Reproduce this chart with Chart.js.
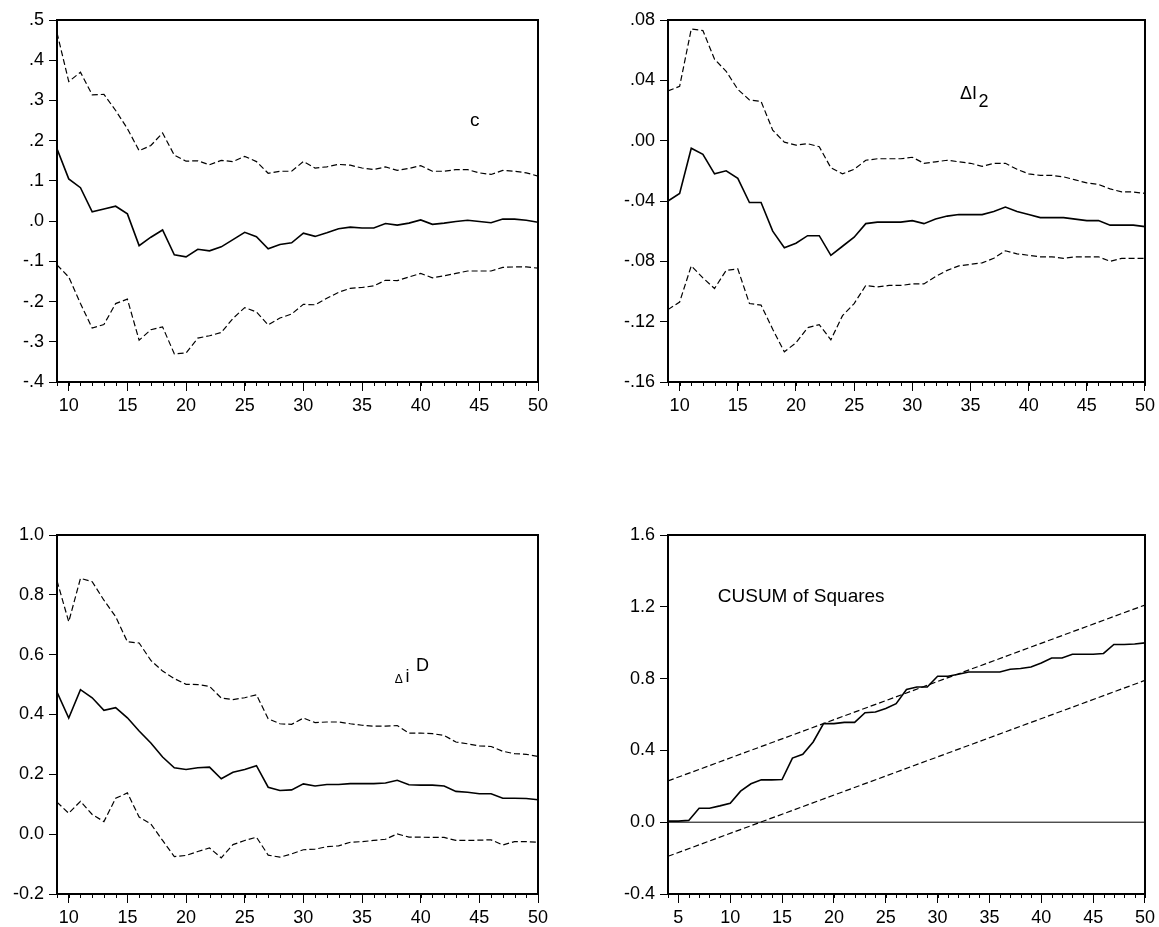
<!DOCTYPE html>
<html><head><meta charset="utf-8">
<script src="https://cdn.jsdelivr.net/npm/chart.js@4"></script>
<style>
html,body{margin:0;padding:0;background:#fff;overflow:hidden;width:1159px;height:927px}
canvas{position:absolute;display:block}
</style></head><body>
<canvas id="c1" width="580" height="420" style="left:0;top:0"></canvas>
<canvas id="c2" width="579" height="420" style="left:580px;top:0"></canvas>
<canvas id="c3" width="580" height="467" style="left:0;top:460px"></canvas>
<canvas id="c4" width="579" height="467" style="left:580px;top:460px"></canvas>
<script>
// ---------- data ----------
const periods = [9,10,11,12,13,14,15,16,17,18,19,20,21,22,23,24,25,26,27,28,29,30,31,32,33,34,35,36,37,38,39,40,41,42,43,44,45,46,47,48,49,50];

const cCoef  = [0.180,0.105,0.083,0.023,0.030,0.037,0.018,-0.061,-0.040,-0.022,-0.084,-0.089,-0.070,-0.074,-0.064,-0.046,-0.028,-0.039,-0.069,-0.058,-0.054,-0.030,-0.038,-0.029,-0.019,-0.015,-0.017,-0.017,-0.006,-0.010,-0.005,0.003,-0.008,-0.005,-0.001,0.002,-0.001,-0.004,0.005,0.005,0.002,-0.003];
const cUpper = [0.468,0.347,0.370,0.314,0.315,0.275,0.230,0.175,0.188,0.219,0.164,0.149,0.150,0.140,0.151,0.148,0.161,0.148,0.119,0.124,0.124,0.148,0.132,0.135,0.141,0.139,0.132,0.128,0.135,0.126,0.131,0.138,0.124,0.124,0.128,0.128,0.120,0.116,0.126,0.124,0.120,0.112];
const cLower = [-0.109,-0.139,-0.205,-0.266,-0.257,-0.205,-0.194,-0.296,-0.270,-0.263,-0.330,-0.328,-0.291,-0.285,-0.277,-0.242,-0.215,-0.226,-0.258,-0.241,-0.231,-0.207,-0.208,-0.192,-0.177,-0.167,-0.165,-0.161,-0.147,-0.148,-0.139,-0.130,-0.141,-0.136,-0.130,-0.124,-0.124,-0.124,-0.115,-0.114,-0.114,-0.117];

const dI2Coef  = [-0.040,-0.035,-0.005,-0.009,-0.022,-0.020,-0.025,-0.041,-0.041,-0.060,-0.071,-0.068,-0.063,-0.063,-0.076,-0.070,-0.064,-0.055,-0.054,-0.054,-0.054,-0.053,-0.055,-0.052,-0.050,-0.049,-0.049,-0.049,-0.047,-0.044,-0.047,-0.049,-0.051,-0.051,-0.051,-0.052,-0.053,-0.053,-0.056,-0.056,-0.056,-0.057];
const dI2Upper = [0.033,0.036,0.074,0.073,0.054,0.046,0.034,0.027,0.026,0.007,-0.001,-0.003,-0.002,-0.004,-0.018,-0.022,-0.019,-0.013,-0.012,-0.012,-0.012,-0.011,-0.015,-0.014,-0.013,-0.014,-0.015,-0.017,-0.015,-0.015,-0.019,-0.022,-0.023,-0.023,-0.024,-0.026,-0.028,-0.029,-0.032,-0.034,-0.034,-0.035];
const dI2Lower = [-0.112,-0.107,-0.083,-0.091,-0.098,-0.086,-0.085,-0.108,-0.109,-0.125,-0.140,-0.134,-0.124,-0.122,-0.132,-0.116,-0.108,-0.096,-0.097,-0.096,-0.096,-0.095,-0.095,-0.090,-0.086,-0.083,-0.082,-0.081,-0.078,-0.073,-0.075,-0.076,-0.077,-0.077,-0.078,-0.077,-0.077,-0.077,-0.080,-0.078,-0.078,-0.078];

const diDCoef  = [0.475,0.388,0.483,0.456,0.414,0.423,0.389,0.345,0.305,0.258,0.222,0.216,0.222,0.224,0.185,0.207,0.216,0.229,0.157,0.146,0.148,0.168,0.161,0.166,0.166,0.169,0.169,0.169,0.171,0.180,0.165,0.164,0.164,0.161,0.143,0.140,0.135,0.135,0.120,0.120,0.119,0.115];
const diDUpper = [0.847,0.710,0.855,0.844,0.782,0.727,0.643,0.639,0.581,0.545,0.520,0.501,0.500,0.494,0.455,0.450,0.456,0.466,0.386,0.369,0.367,0.388,0.373,0.375,0.375,0.369,0.364,0.361,0.361,0.363,0.338,0.338,0.336,0.330,0.308,0.302,0.295,0.293,0.277,0.269,0.267,0.260];
const diDLower = [0.107,0.070,0.110,0.066,0.042,0.120,0.138,0.057,0.034,-0.021,-0.075,-0.071,-0.058,-0.046,-0.079,-0.035,-0.021,-0.010,-0.070,-0.077,-0.066,-0.052,-0.050,-0.042,-0.039,-0.027,-0.025,-0.021,-0.017,0.001,-0.010,-0.010,-0.011,-0.011,-0.021,-0.021,-0.020,-0.019,-0.036,-0.025,-0.025,-0.027];

const cusumPeriods = [4,5,6,7,8,9,10,11,12,13,14,15,16,17,18,19,20,21,22,23,24,25,26,27,28,29,30,31,32,33,34,35,36,37,38,39,40,41,42,43,44,45,46,47,48,49,50];
const cusumSq = [0.006,0.006,0.010,0.078,0.078,0.091,0.106,0.173,0.214,0.236,0.236,0.238,0.357,0.378,0.447,0.549,0.549,0.556,0.556,0.610,0.614,0.633,0.660,0.739,0.753,0.753,0.813,0.813,0.824,0.837,0.837,0.837,0.837,0.852,0.856,0.865,0.887,0.915,0.915,0.936,0.936,0.936,0.940,0.990,0.990,0.993,0.999];
const boundPeriods = [4,50];
const cusumUpper = [0.23,1.21];
const cusumLower = [-0.19,0.79];
const zeroLine = [0,0];

// tick values & labels
const xMajor1 = [10,15,20,25,30,35,40,45,50];
const xMajor4 = [5,10,15,20,25,30,35,40,45,50];
const yTicks1 = [0.5,0.4,0.3,0.2,0.1,0.0,-0.1,-0.2,-0.3,-0.4];
const yLabels1 = [".5",".4",".3",".2",".1",".0","-.1","-.2","-.3","-.4"];
const yTicks2 = [0.08,0.04,0.00,-0.04,-0.08,-0.12,-0.16];
const yLabels2 = [".08",".04",".00","-.04","-.08","-.12","-.16"];
const yTicks3 = [1.0,0.8,0.6,0.4,0.2,0.0,-0.2];
const yLabels3 = ["1.0","0.8","0.6","0.4","0.2","0.0","-0.2"];
const yTicks4 = [1.6,1.2,0.8,0.4,0.0,-0.4];
const yLabels4 = ["1.6","1.2","0.8","0.4","0.0","-0.4"];

// ---------- helpers ----------
const FONT = "'Liberation Sans', Arial, sans-serif";
const TICK_FONT = 18;
function pts(xs, ys){ return xs.map((x,i)=>({x:x, y:ys[i]})); }
function solid(xs, ys, w){ return {data:pts(xs,ys), borderColor:'#000', borderWidth:w||1.6, pointRadius:0, tension:0, fill:false}; }
function dashed(xs, ys){ return {data:pts(xs,ys), borderColor:'#000', borderWidth:1.2, borderDash:[6,3], pointRadius:0, tension:0, fill:false}; }

function makePanel(id, cfg){
  const framePlugin = {
    id:'frame',
    afterDraw(chart){
      const ctx = chart.ctx, a = chart.chartArea, xs = chart.scales.x;
      ctx.save();
      ctx.strokeStyle = '#000';
      ctx.lineWidth = 1;
      ctx.beginPath();
      for(let v=Math.ceil(xs.min); v<=xs.max; v++){
        const px = Math.round(xs.getPixelForValue(v)) + 0.5;
        ctx.moveTo(px, a.bottom); ctx.lineTo(px, a.bottom+4);
      }
      ctx.stroke();
      ctx.lineWidth = 2;
      ctx.strokeRect(a.left, a.top, a.right-a.left, a.bottom-a.top);
      ctx.fillStyle = '#000';
      ctx.textBaseline = 'alphabetic';
      ctx.textAlign = 'left';
      (cfg.texts||[]).forEach(t=>{
        ctx.font = t.size + 'px ' + FONT;
        ctx.fillText(t.text, xs.getPixelForValue(t.x), chart.scales.y.getPixelForValue(t.y));
      });
      ctx.restore();
    }
  };
  return new Chart(document.getElementById(id), {
    type:'line',
    data:{datasets:cfg.datasets},
    plugins:[framePlugin],
    options:{
      responsive:false, animation:false, devicePixelRatio:1,
      layout:{padding:{left:0, top:cfg.padTop, right:cfg.padRight, bottom:0}},
      plugins:{legend:{display:false}, tooltip:{enabled:false}},
      scales:{
        x:{
          type:'linear', min:cfg.xMin, max:cfg.xMax,
          afterBuildTicks(s){ s.ticks = cfg.xMajor.map(v=>({value:v})); },
          afterFit(s){ s.height = cfg.xAxisH; },
          ticks:{color:'#000', font:{family:FONT, size:TICK_FONT}, padding:4, maxRotation:0, autoSkip:false,
                 callback:(v)=>String(v)},
          grid:{drawOnChartArea:false, drawTicks:true, tickLength:9, tickColor:'#000', tickWidth:1},
          border:{display:false}
        },
        y:{
          type:'linear', min:cfg.yMin, max:cfg.yMax,
          afterBuildTicks(s){ s.ticks = cfg.yTicks.map(v=>({value:v})); },
          afterFit(s){ s.width = cfg.yAxisW; },
          ticks:{color:'#000', font:{family:FONT, size:TICK_FONT}, padding:5, autoSkip:false,
                 callback:(v)=>{ const i = cfg.yTicks.findIndex(t=>Math.abs(t-v)<1e-9); return i>=0 ? cfg.yLabels[i] : ''; }},
          grid:{drawOnChartArea:false, drawTicks:true, tickLength:8, tickColor:'#000', tickWidth:1},
          border:{display:false}
        }
      }
    }
  });
}

makePanel('c1', {
  padTop:20, padRight:42, xAxisH:38, yAxisW:57,
  xMin:9, xMax:50, xMajor:xMajor1,
  yMin:-0.4, yMax:0.5, yTicks:yTicks1, yLabels:yLabels1,
  datasets:[solid(periods,cCoef), dashed(periods,cUpper), dashed(periods,cLower)],
  texts:[{text:'c', x:44.2, y:0.236, size:19}]
});

makePanel('c2', {
  padTop:20, padRight:11, xAxisH:38, yAxisW:88,
  xMin:9, xMax:50, xMajor:xMajor1,
  yMin:-0.16, yMax:0.08, yTicks:yTicks2, yLabels:yLabels2,
  datasets:[solid(periods,dI2Coef), dashed(periods,dI2Upper), dashed(periods,dI2Lower)],
  texts:[{text:'\u0394I', x:34.1, y:0.0274, size:18},{text:'2', x:35.7, y:0.0222, size:18}]
});

makePanel('c3', {
  padTop:75, padRight:42, xAxisH:33, yAxisW:57,
  xMin:9, xMax:50, xMajor:xMajor1,
  yMin:-0.2, yMax:1.0, yTicks:yTicks3, yLabels:yLabels3,
  datasets:[solid(periods,diDCoef), dashed(periods,diDUpper), dashed(periods,diDLower)],
  texts:[{text:'\u0394', x:37.8, y:0.505, size:12},{text:'i', x:38.7, y:0.507, size:18},{text:'D', x:39.6, y:0.546, size:18}]
});

makePanel('c4', {
  padTop:75, padRight:11, xAxisH:33, yAxisW:88,
  xMin:4, xMax:50, xMajor:xMajor4,
  yMin:-0.4, yMax:1.6, yTicks:yTicks4, yLabels:yLabels4,
  datasets:[solid(cusumPeriods,cusumSq), dashed(boundPeriods,cusumUpper), dashed(boundPeriods,cusumLower), solid(boundPeriods,zeroLine,1)],
  texts:[{text:'CUSUM of Squares', x:8.8, y:1.228, size:19}]
});
</script>
</body></html>
